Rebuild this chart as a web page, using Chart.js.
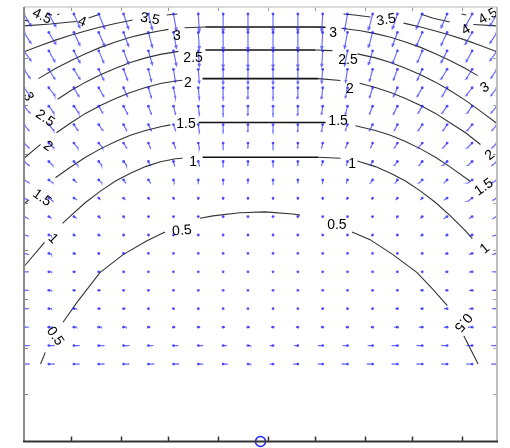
<!DOCTYPE html>
<html>
<head>
<meta charset="utf-8">
<script src="https://cdn.jsdelivr.net/npm/chart.js@4.4.1/dist/chart.umd.min.js"></script>
<style>
  html, body { margin: 0; padding: 0; background: #fff; overflow: hidden; }
  canvas { display: block; }
</style>
</head>
<body>
<canvas id="chart" width="510" height="448"></canvas>
<script>
// quiver grid: 20 columns (left -> right), 20 rows (top -> bottom)
const gridX = [-1, -0.895, -0.789, -0.684, -0.579, -0.474, -0.368, -0.263, -0.158, -0.053,
  0.053, 0.158, 0.263, 0.368, 0.474, 0.579, 0.684, 0.789, 0.895, 1];
const gridY = [1.5, 1.421, 1.342, 1.263, 1.184, 1.105, 1.026, 0.947, 0.868, 0.789,
  0.711, 0.632, 0.553, 0.474, 0.395, 0.316, 0.237, 0.158, 0.079, 0];

// arrow components, one row per gridY entry
const quiverU = [
  [7,7,6,6,5,4,3,1,0,0, 0,0,-1,-3,-4,-5,-6,-6,-7,-7],
  [7,7,6,6,5,4,3,1,0,0, 0,0,-1,-3,-4,-5,-6,-6,-7,-7],
  [7,6,6,5,5,4,3,1,0,0, 0,0,-1,-3,-4,-5,-5,-6,-6,-7],
  [6,6,6,5,4,3,2,1,0,0, 0,0,-1,-2,-3,-4,-5,-6,-6,-6],
  [6,6,5,5,4,3,2,1,0,0, 0,0,-1,-2,-3,-4,-5,-5,-6,-6],
  [6,5,5,4,4,3,2,1,0,0, 0,0,-1,-2,-3,-4,-4,-5,-5,-6],
  [5,5,4,4,3,3,2,1,0,0, 0,0,-1,-2,-3,-3,-4,-4,-5,-5],
  [5,5,4,4,3,2,2,1,0,0, 0,0,-1,-2,-2,-3,-4,-4,-5,-5],
  [5,4,4,3,3,2,1,1,0,0, 0,0,-1,-1,-2,-3,-3,-4,-4,-5],
  [5,4,3,3,2,2,1,0,0,0, 0,0,0,-1,-2,-2,-3,-3,-4,-5],
  [4,4,3,2,2,1,1,0,0,0, 0,0,0,-1,-1,-2,-2,-3,-4,-4],
  [4,3,3,2,1,1,0,0,0,0, 0,0,0,0,-1,-1,-2,-3,-3,-4],
  [4,3,2,2,1,1,0,0,0,0, 0,0,0,0,-1,-1,-2,-2,-3,-4],
  [4,3,2,1,1,0,0,0,0,0, 0,0,0,0,0,-1,-1,-2,-3,-4],
  [4,3,2,1,1,0,0,0,0,0, 0,0,0,0,0,-1,-1,-2,-3,-4],
  [4,3,2,2,1,1,0,0,0,0, 0,0,0,0,-1,-1,-2,-2,-3,-4],
  [4,3,3,2,2,1,1,1,0,0, 0,0,-1,-1,-1,-2,-2,-3,-3,-4],
  [4,4,3,3,3,2,2,2,2,2, -2,-2,-2,-2,-2,-3,-3,-3,-4,-4],
  [5,5,5,5,5,4,4,4,3,3, -3,-3,-4,-4,-4,-5,-5,-5,-5,-5],
  [5,5,5,5,5,5,5,4,4,3, -3,-4,-4,-5,-5,-5,-5,-5,-5,-5]
];
const quiverV = [
  [-12,-13,-14,-15,-15,-16,-17,-18,-18,-18, -18,-18,-18,-17,-16,-15,-15,-14,-13,-12],
  [-11,-12,-13,-14,-14,-15,-16,-17,-18,-18, -18,-18,-17,-16,-15,-14,-14,-13,-12,-11],
  [-10,-11,-12,-12,-13,-14,-15,-16,-17,-17, -17,-17,-16,-15,-14,-13,-12,-12,-11,-10],
  [-9,-10,-10,-11,-11,-12,-13,-14,-15,-15, -15,-15,-14,-13,-12,-11,-11,-10,-10,-9],
  [-8,-8,-9,-9,-9,-10,-10,-11,-11,-11, -11,-11,-11,-10,-10,-9,-9,-9,-8,-8],
  [-7,-7,-7,-7,-8,-8,-8,-8,-9,-9, -9,-9,-8,-8,-8,-8,-7,-7,-7,-7],
  [-6,-6,-6,-6,-6,-6,-6,-7,-7,-7, -7,-7,-7,-6,-6,-6,-6,-6,-6,-6],
  [-5,-5,-5,-5,-5,-5,-5,-5,-5,-5, -5,-5,-5,-5,-5,-5,-5,-5,-5,-5],
  [-4,-4,-4,-4,-4,-4,-4,-4,-4,-4, -4,-4,-4,-4,-4,-4,-4,-4,-4,-4],
  [-3,-3,-3,-3,-3,-3,-3,-3,-3,-3, -3,-3,-3,-3,-3,-3,-3,-3,-3,-3],
  [-2,-3,-2,-2,-2,-2,-2,-2,-2,-2, -2,-2,-2,-2,-2,-2,-2,-2,-3,-2],
  [-2,-2,-2,-2,-2,-1,-1,-1,-1,-1, -1,-1,-1,-1,-1,-2,-2,-2,-2,-2],
  [-1,-1,-1,-1,-1,-1,-1,-1,-1,-1, -1,-1,-1,-1,-1,-1,-1,-1,-1,-1],
  [-1,-1,-1,-1,0,0,0,0,0,0, 0,0,0,0,0,0,-1,-1,-1,-1],
  [0,0,0,0,0,0,0,0,0,0, 0,0,0,0,0,0,0,0,0,0],
  [0,0,0,0,0,0,0,0,0,0, 0,0,0,0,0,0,0,0,0,0],
  [0,0,0,0,0,0,0,0,0,0, 0,0,0,0,0,0,0,0,0,0],
  [0,0,0,0,0,0,0,0,0,0, 0,0,0,0,0,0,0,0,0,0],
  [0,0,0,0,0,0,0,0,0,0, 0,0,0,0,0,0,0,0,0,0],
  [0,0,0,0,0,0,0,0,0,0, 0,0,0,0,0,0,0,0,0,0]
];

// contour lines, null = break for a label
const level05 = [[-0.93,0],[-0.91,0.05],null,[-0.835,0.179],[-0.776,0.264],[-0.679,0.392],[-0.581,0.469],
  [-0.48,0.528],[-0.404,0.566],null,[-0.256,0.625],[-0.201,0.635],[-0.087,0.648],[0.019,0.652],[0.137,0.643],
  [0.167,0.638],null,[0.387,0.566],[0.463,0.533],[0.56,0.469],[0.662,0.392],[0.729,0.32],[0.79,0.25],null,
  [0.86,0.12],[0.873,0.094],[0.92,0]];
const level1 = [[-1,0.418],[-0.913,0.521],null,[-0.837,0.603],[-0.803,0.635],[-0.74,0.692],[-0.677,0.741],
  [-0.613,0.784],[-0.55,0.818],[-0.486,0.846],[-0.423,0.867],[-0.359,0.88],[-0.33,0.882],null,[-0.245,0.886],
  [0,0.886],[0.245,0.886],[0.338,0.882],null,[0.41,0.87],[0.486,0.846],[0.55,0.818],[0.613,0.784],[0.677,0.741],
  [0.74,0.692],[0.803,0.635],[0.867,0.571],[0.896,0.537]];
const level15 = [[-1,0.686],[-0.981,0.703],null,[-0.867,0.798],[-0.803,0.844],[-0.74,0.886],[-0.677,0.922],
  [-0.613,0.954],[-0.55,0.98],[-0.486,1.001],[-0.423,1.017],[-0.381,1.025],null,[-0.262,1.035],[0,1.035],
  [0.275,1.035],null,[0.402,1.021],[0.486,1.001],[0.55,0.98],[0.613,0.954],[0.677,0.922],[0.74,0.886],
  [0.803,0.844],[0.888,0.782]];
const level2 = [[-1,0.882],[-0.93,0.941],null,[-0.863,0.991],[-0.803,1.033],[-0.74,1.074],[-0.677,1.108],
  [-0.613,1.138],[-0.55,1.164],[-0.486,1.185],[-0.423,1.202],[-0.359,1.213],[-0.33,1.216],null,[-0.245,1.223],
  [0,1.223],[0.245,1.223],[0.338,1.215],null,[0.419,1.203],[0.486,1.185],[0.55,1.164],[0.613,1.138],
  [0.677,1.108],[0.74,1.074],[0.803,1.033],[0.867,0.991],[0.93,0.941]];
const level25 = [[-0.858,1.135],[-0.803,1.171],[-0.74,1.208],[-0.677,1.24],[-0.613,1.268],[-0.55,1.292],
  [-0.486,1.312],[-0.423,1.327],[-0.347,1.34],null,[-0.233,1.346],[0,1.346],[0.233,1.346],[0.304,1.343],null,
  [0.41,1.329],[0.486,1.312],[0.55,1.292],[0.613,1.268],[0.677,1.24],[0.74,1.208],[0.803,1.171],[0.867,1.13],
  [0.93,1.084],[1,1.031]];
const level3 = [[-0.939,1.223],[-0.867,1.266],[-0.803,1.3],[-0.74,1.33],[-0.677,1.357],[-0.613,1.38],
  [-0.55,1.4],[-0.486,1.416],[-0.423,1.428],[-0.389,1.434],null,[-0.321,1.441],[-0.233,1.444],[0,1.444],
  [0.233,1.444],[0.275,1.443],null,[0.342,1.439],[0.423,1.428],[0.486,1.416],[0.55,1.4],[0.613,1.38],
  [0.677,1.357],[0.74,1.33],[0.803,1.3],[0.867,1.266],[0.918,1.236]];
const level35 = [[-1,1.338],[-0.93,1.365],[-0.867,1.388],[-0.803,1.409],[-0.74,1.427],[-0.677,1.444],
  [-0.613,1.459],[-0.55,1.472],[-0.541,1.474],null,[-0.397,1.496],[-0.351,1.5],null,[0.351,1.5],[0.397,1.496],
  [0.465,1.487],null,[0.605,1.461],[0.677,1.444],[0.74,1.427],[0.803,1.409],[0.867,1.388],[0.93,1.365],[1,1.338]];
const level4 = [[-1,1.449],[-0.888,1.457],[-0.803,1.466],[-0.778,1.468],null,[-0.727,1.483],[-0.677,1.5],null,
  [0.677,1.5],[0.727,1.483],[0.8,1.466],null,[0.9,1.455],[1,1.449]];
const level45 = [[-1,1.474],[-0.98,1.47],null,[-0.86,1.497],[-0.85,1.5],null,[0.85,1.5],[0.87,1.496]];

const contourLabels = [
  {t: '4.5', x: -0.924, y: 1.49, a: 25}, {t: '4', x: -0.755, y: 1.466, a: 20},
  {t: '3.5', x: -0.467, y: 1.478, a: 10}, {t: '3', x: -0.353, y: 1.406, a: 0},
  {t: '2.5', x: -0.285, y: 1.312, a: 0}, {t: '2', x: -0.307, y: 1.202, a: 0},
  {t: '1.5', x: -0.315, y: 1.027, a: 0}, {t: '1', x: -0.285, y: 0.865, a: 0},
  {t: '0.5', x: -0.332, y: 0.571, a: -5},
  {t: '3.5', x: 0.531, y: 1.474, a: -10}, {t: '3', x: 0.307, y: 1.419, a: 0},
  {t: '2.5', x: 0.37, y: 1.304, a: 0}, {t: '2', x: 0.378, y: 1.176, a: 0},
  {t: '1.5', x: 0.328, y: 1.04, a: 0}, {t: '1', x: 0.387, y: 0.856, a: 0},
  {t: '0.5', x: 0.323, y: 0.597, a: 0},
  {t: '3', x: -0.983, y: 1.146, a: 60}, {t: '2.5', x: -0.911, y: 1.052, a: 35},
  {t: '2', x: -0.899, y: 0.933, a: 35}, {t: '1.5', x: -0.924, y: 0.712, a: 35},
  {t: '1', x: -0.877, y: 0.537, a: 45}, {t: '0.5', x: -0.869, y: 0.119, a: 55},
  {t: '4.5', x: 0.962, y: 1.49, a: -30}, {t: '4', x: 0.869, y: 1.432, a: -30},
  {t: '3', x: 0.949, y: 1.184, a: -30}, {t: '2', x: 0.97, y: 0.895, a: -40},
  {t: '1.5', x: 0.945, y: 0.758, a: -35}, {t: '1', x: 0.949, y: 0.494, a: -40},
  {t: '0.5', x: 0.856, y: 0.179, a: 130}
];

const xTicks = [-0.8, -0.59, -0.39, -0.18, 0.03, 0.23, 0.44, 0.64, 0.85];
const yTicks = [-0.13, 0.07, 0.28, 0.49, 0.69, 0.9, 1.11, 1.31];
const charge = [{x: 0, y: -0.332}];

const quiverScale = 1 / 236;

function toPoints(list) {
  let lastX = 0;
  return list.map(p => {
    if (!p) return {x: lastX, y: null};
    lastX = p[0];
    return {x: p[0], y: p[1]};
  });
}

// arrows: shaft + two small head strokes, separated by nulls
const arrowPts = [];
const tailPts = [];
gridY.forEach((gy, r) => {
  gridX.forEach((gx, c) => {
    const u = quiverU[r][c], v = quiverV[r][c];
    tailPts.push({x: gx, y: gy});
    const len = Math.hypot(u, v);
    if (len < 0.5) return;
    const tx = gx + u * quiverScale, ty = gy + v * quiverScale;
    arrowPts.push({x: gx, y: gy}, {x: tx, y: ty}, {x: tx, y: null});
    if (len >= 3) {
      const h = 0.2 * len * quiverScale, ang = Math.atan2(v, u), s = 0.4;
      arrowPts.push({x: tx - h * Math.cos(ang - s), y: ty - h * Math.sin(ang - s)}, {x: tx, y: ty},
        {x: tx - h * Math.cos(ang + s), y: ty - h * Math.sin(ang + s)}, {x: tx, y: null});
    }
  });
});

const flat = c => Math.abs(c.p0.parsed.y - c.p1.parsed.y) < 0.002;
const contourSets = [level05, level1, level15, level2, level25, level3, level35, level4, level45].map(l => ({
  type: 'line',
  data: toPoints(l),
  borderColor: '#333',
  borderWidth: 1.1,
  pointRadius: 0,
  spanGaps: false,
  order: 3,
  segment: {
    borderWidth: c => flat(c) ? 1.6 : 1.1,
    borderColor: c => flat(c) ? '#111' : undefined
  }
}));

const labelPlugin = {
  id: 'contourLabels',
  afterDatasetsDraw(chart) {
    const {ctx, scales: {x, y}} = chart;
    ctx.save();
    ctx.font = '14px "Liberation Sans", Arial, sans-serif';
    ctx.fillStyle = '#000';
    ctx.textAlign = 'center';
    ctx.textBaseline = 'middle';
    contourLabels.forEach(l => {
      ctx.save();
      ctx.translate(x.getPixelForValue(l.x), y.getPixelForValue(l.y));
      ctx.rotate(l.a * Math.PI / 180);
      ctx.fillText(l.t, 0, 0);
      ctx.restore();
    });
    ctx.restore();
  }
};

const framePlugin = {
  id: 'frame',
  afterDraw(chart) {
    const {ctx, chartArea: a, scales: {x, y}} = chart;
    const seg = (x0, y0, x1, y1, col, w) => {
      ctx.strokeStyle = col; ctx.lineWidth = w;
      ctx.beginPath(); ctx.moveTo(x0, y0); ctx.lineTo(x1, y1); ctx.stroke();
    };
    ctx.save();
    xTicks.forEach(v => {
      const px = Math.round(x.getPixelForValue(v)) + 0.5;
      seg(px, a.bottom, px, a.bottom - 5, '#333', 1.5);
      seg(px, a.top, px, a.top + 4, '#999', 1);
    });
    yTicks.forEach(v => {
      const py = Math.round(y.getPixelForValue(v)) + 0.5;
      seg(a.left, py, a.left + 4, py, '#888', 1);
      seg(a.right, py, a.right - 4, py, '#aaa', 1);
    });
    seg(a.left, a.top, a.right, a.top, '#cfcfcf', 1.5);
    seg(a.right, a.top, a.right, a.bottom, '#bdbdbd', 2);
    seg(a.left, a.top, a.left, a.bottom, '#8a8a8a', 2);
    seg(a.left - 1, a.bottom, a.right + 1, a.bottom, '#333', 2);
    ctx.restore();
  }
};

new Chart(document.getElementById('chart'), {
  type: 'line',
  data: {
    datasets: [
      ...contourSets,
      {
        type: 'line',
        data: arrowPts,
        borderColor: 'rgba(40,40,255,0.68)',
        borderWidth: 1.2,
        pointRadius: 0,
        spanGaps: false,
        order: 2
      },
      {
        type: 'scatter',
        data: tailPts,
        pointRadius: 1.4,
        pointBorderWidth: 0,
        backgroundColor: 'rgba(30,30,255,0.75)',
        order: 2
      },
      {
        type: 'scatter',
        data: charge,
        pointRadius: 5,
        pointBorderWidth: 1.5,
        borderColor: '#2020ff',
        backgroundColor: 'rgba(0,0,0,0)',
        clip: false,
        order: 0
      }
    ]
  },
  options: {
    responsive: false,
    animation: false,
    devicePixelRatio: 1,
    layout: {padding: {left: 24, right: 13, top: 7, bottom: 4}},
    plugins: {legend: {display: false}, tooltip: {enabled: false}},
    scales: {
      x: {type: 'linear', min: -1, max: 1, display: false},
      y: {type: 'linear', min: -0.332, max: 1.53, display: false}
    }
  },
  plugins: [labelPlugin, framePlugin]
});
</script>
</body>
</html>
